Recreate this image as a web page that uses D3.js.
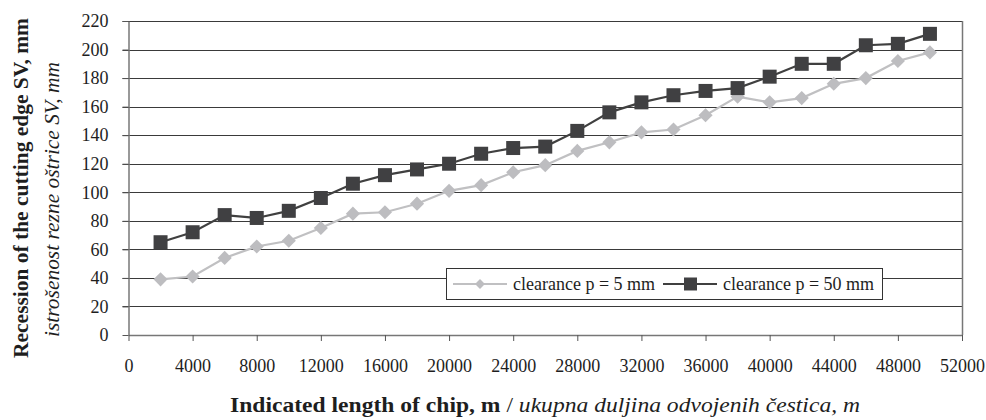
<!DOCTYPE html>
<html>
<head>
<meta charset="utf-8">
<script src="https://cdn.jsdelivr.net/npm/d3@7"></script>
<style>
  html, body { margin: 0; padding: 0; background: #fff; }
  svg { display: block; }
</style>
</head>
<body>
<svg id="chart" width="986" height="420"></svg>
<script>
// Chip length (m) at each measurement
const chipLength = [2000, 4000, 6000, 8000, 10000, 12000, 14000, 16000, 18000, 20000,
  22000, 24000, 26000, 28000, 30000, 32000, 34000, 36000, 38000, 40000,
  42000, 44000, 46000, 48000, 50000];

// Recession of the cutting edge SV (mm), clearance p = 5 mm
const clearance5 = [39, 41, 54, 62, 66, 75, 85, 86, 92, 101,
  105, 114, 119, 129, 135, 142, 144, 154, 167, 163,
  166, 176, 180, 192, 198];

// Recession of the cutting edge SV (mm), clearance p = 50 mm
const clearance50 = [65, 72, 84, 82, 87, 96, 106, 112, 116, 120,
  127, 131, 132, 143, 156, 163, 168, 171, 173, 181,
  190, 190, 203, 204, 211];

const xTicks = d3.range(0, 52001, 4000);
const yTicks = d3.range(0, 221, 20);

const seriesNames = ["clearance p = 5 mm", "clearance p = 50 mm"];

const FONT = "'Liberation Serif', 'Times New Roman', serif";
const INK = "#1e1e1e";

const svg = d3.select("#chart");
const plotLeft = 128.5, plotRight = 962, plotTop = 21, plotBottom = 335;

const x = d3.scaleLinear().domain([0, 52000]).range([plotLeft, plotRight]);
const y = d3.scaleLinear().domain([0, 220]).range([plotBottom, plotTop]);

// horizontal gridlines
svg.append("g")
  .selectAll("line")
  .data(yTicks.filter(d => d > 0))
  .join("line")
  .attr("x1", plotLeft - 6).attr("x2", plotRight)
  .attr("y1", d => Math.round(y(d)) + 0.5).attr("y2", d => Math.round(y(d)) + 0.5)
  .attr("stroke", "#3a3a3a").attr("stroke-width", 1.2);

// right border of plot area
svg.append("line")
  .attr("x1", plotRight + 0.5).attr("x2", plotRight + 0.5)
  .attr("y1", plotTop).attr("y2", plotBottom)
  .attr("stroke", "#777").attr("stroke-width", 1.5);

// y axis
const yAxis = svg.append("g")
  .attr("transform", `translate(${plotLeft},0)`)
  .call(d3.axisLeft(y).tickValues(yTicks).tickSize(6).tickPadding(14).tickSizeOuter(0));
yAxis.select(".domain").attr("stroke", "#777").attr("stroke-width", 1.5);
yAxis.selectAll(".tick line").attr("stroke", "#555");
yAxis.selectAll("text").style("font-size", "18px").attr("fill", INK)
  .style("font-family", FONT);

// x axis
const xAxis = svg.append("g")
  .attr("transform", `translate(0,${plotBottom})`)
  .call(d3.axisBottom(x).tickValues(xTicks).tickFormat(d3.format("d")).tickSize(6).tickPadding(18).tickSizeOuter(0));
xAxis.select(".domain").attr("stroke", "#777").attr("stroke-width", 1.5);
xAxis.selectAll(".tick line").attr("stroke", "#555");
xAxis.selectAll("text").style("font-size", "18px").attr("fill", INK)
  .style("font-family", FONT);

const line = d3.line().x((d, i) => x(chipLength[i])).y(d => y(d));

// clearance p = 5 mm : light grey, diamonds
svg.append("path").datum(clearance5)
  .attr("d", line).attr("fill", "none").attr("stroke", "#c0c0c2").attr("stroke-width", 2.2);
svg.append("g").selectAll("rect")
  .data(clearance5).join("rect")
  .attr("x", -5).attr("y", -5).attr("width", 10).attr("height", 10)
  .attr("fill", "#bdbdc0")
  .attr("transform", (d, i) => `translate(${x(chipLength[i])},${y(d)}) rotate(45)`);

// clearance p = 50 mm : dark grey, squares
svg.append("path").datum(clearance50)
  .attr("d", line).attr("fill", "none").attr("stroke", "#404040").attr("stroke-width", 2.2);
svg.append("g").selectAll("rect")
  .data(clearance50).join("rect")
  .attr("x", (d, i) => x(chipLength[i]) - 7).attr("y", d => y(d) - 7)
  .attr("width", 14).attr("height", 14)
  .attr("fill", "#404042");

// legend
const lg = svg.append("g");
lg.append("rect").attr("x", 446.5).attr("y", 268.5).attr("width", 436).attr("height", 31)
  .attr("fill", "#fff").attr("stroke", "#333").attr("stroke-width", 1);
const ly = 284;
lg.append("line").attr("x1", 453).attr("x2", 507).attr("y1", ly).attr("y2", ly)
  .attr("stroke", "#c0c0c2").attr("stroke-width", 2);
lg.append("rect").attr("x", -3.5).attr("y", -3.5).attr("width", 7).attr("height", 7)
  .attr("fill", "#bdbdc0").attr("transform", `translate(480,${ly}) rotate(45)`);
lg.append("text").attr("x", 513).attr("y", ly + 6).attr("fill", INK)
  .style("font-family", FONT).style("font-size", "18px")
  .text(seriesNames[0]);
lg.append("line").attr("x1", 663).attr("x2", 717).attr("y1", ly).attr("y2", ly)
  .attr("stroke", "#404040").attr("stroke-width", 2);
lg.append("rect").attr("x", 684).attr("y", ly - 6.5).attr("width", 13).attr("height", 13)
  .attr("fill", "#404042");
lg.append("text").attr("x", 723).attr("y", ly + 6).attr("fill", INK)
  .style("font-family", FONT).style("font-size", "18px")
  .text(seriesNames[1]);

// size a title so that it spans the wanted length
function fitSize(textSel, base, length) {
  const w = textSel.node().getComputedTextLength();
  textSel.style("font-size", (base * length / w).toFixed(2) + "px");
}

// vertical axis titles
const yTitle1 = svg.append("text")
  .attr("transform", "translate(28,188) rotate(-90)")
  .attr("text-anchor", "middle").attr("fill", INK)
  .style("font-family", FONT).style("font-size", "20px").style("font-weight", "bold")
  .text("Recession of the cutting edge SV, mm");
fitSize(yTitle1, 20, 340);
const yTitle2 = svg.append("text")
  .attr("transform", "translate(59,199.5) rotate(-90)")
  .attr("text-anchor", "middle").attr("fill", INK)
  .style("font-family", FONT).style("font-size", "20px").style("font-style", "italic")
  .text("istrošenost rezne oštrice SV, mm");
fitSize(yTitle2, 20, 275);

// horizontal axis title (slightly widened type)
const xt = svg.append("text")
  .attr("x", 0).attr("y", 0).attr("text-anchor", "middle").attr("fill", INK)
  .style("font-family", FONT).style("font-size", "20px");
xt.append("tspan").style("font-weight", "bold").text("Indicated length of chip, m");
xt.append("tspan").text(" / ");
xt.append("tspan").style("font-style", "italic").text("ukupna duljina odvojenih čestica, m");
const xtw = xt.node().getBBox().width;
xt.attr("transform", `translate(545,412) scale(${(630 / xtw).toFixed(3)},1)`);
</script>
</body>
</html>
